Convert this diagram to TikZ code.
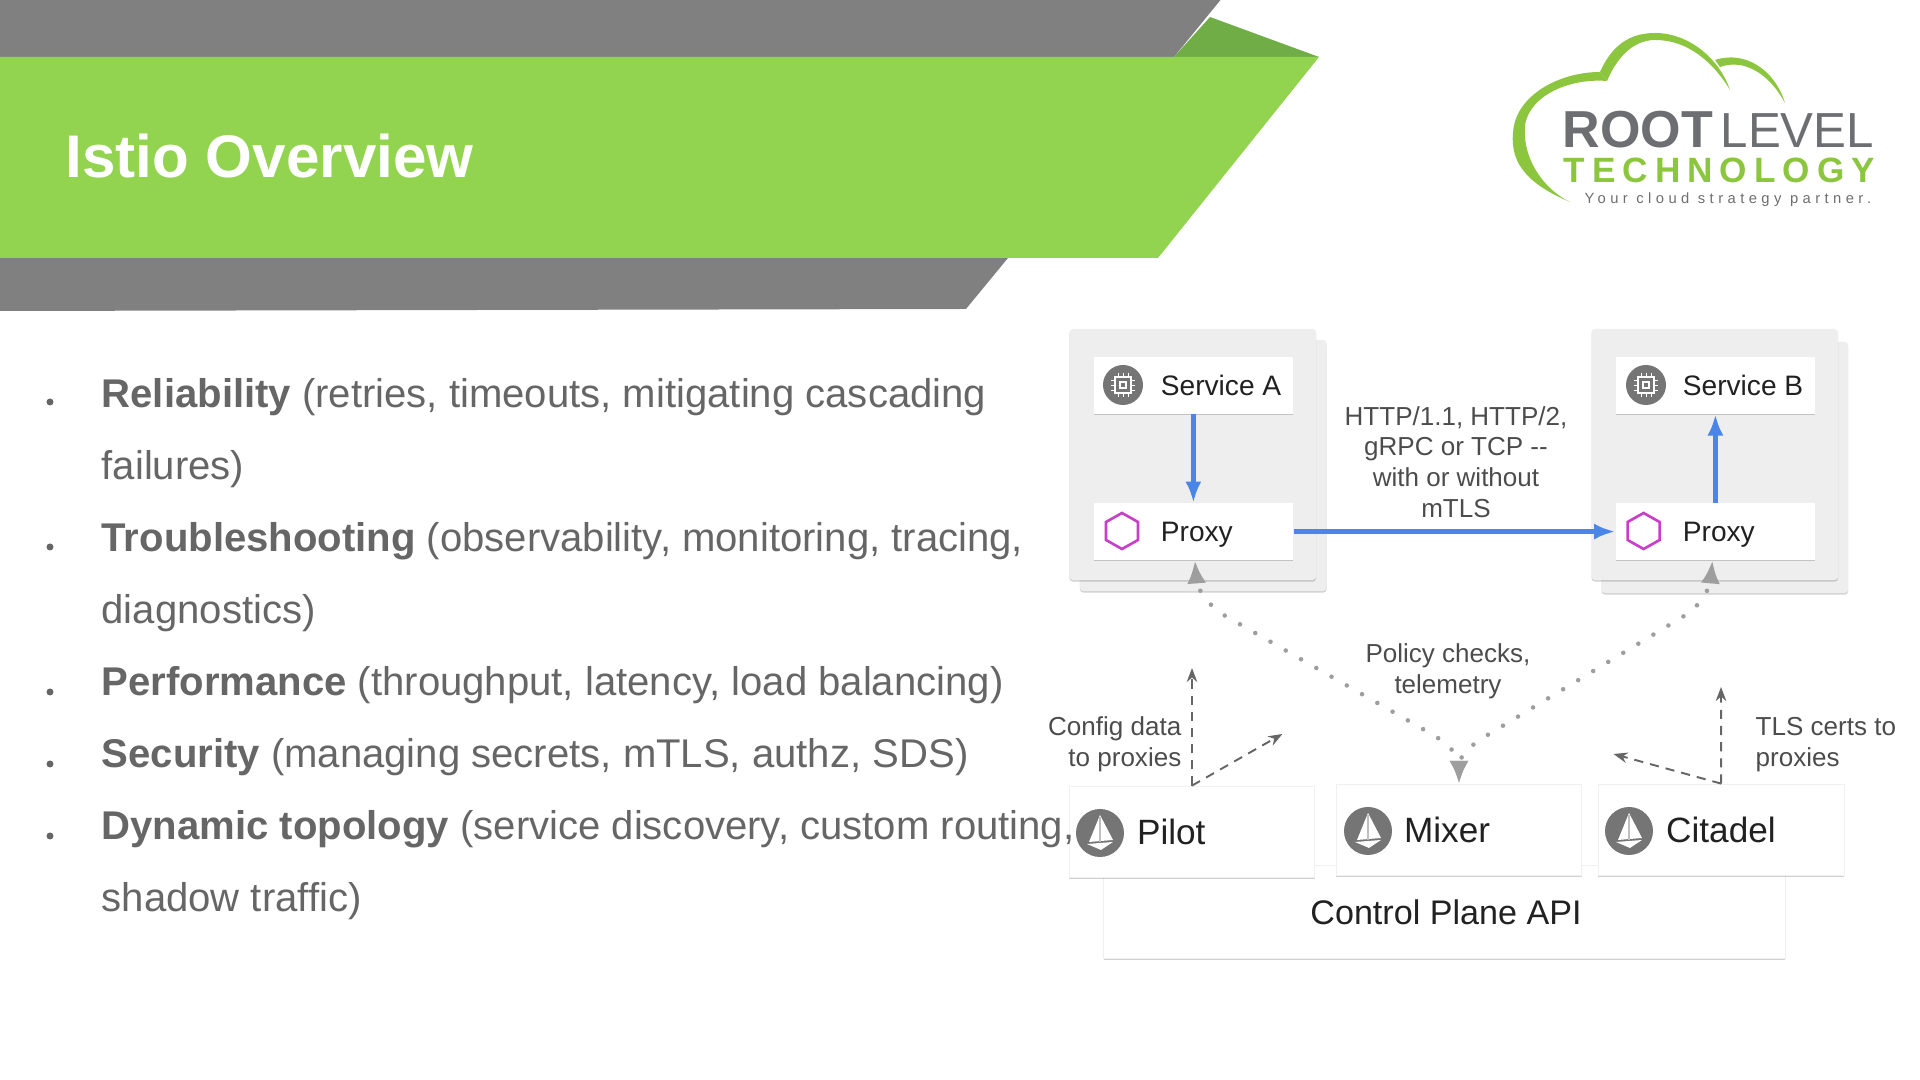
\documentclass[tikz,border=0pt]{standalone}
\usepackage{fontspec}
\setmainfont{Liberation Sans}
\usetikzlibrary{arrows.meta,positioning,shadows}
\definecolor{bandgray}{HTML}{808080}
\definecolor{bandgreen}{HTML}{92D350}
\definecolor{folddark}{HTML}{70AD47}
\definecolor{logogreen}{HTML}{8CC63F}
\definecolor{logogray}{HTML}{6D6E71}
\definecolor{bodygray}{HTML}{666666}
\definecolor{podgray}{HTML}{EEEEEE}
\definecolor{flowblue}{HTML}{4A86E8}
\definecolor{hexpurple}{HTML}{C83FC8}
\definecolor{icongray}{HTML}{757575}
\tikzset{
  softshadow/.style={drop shadow={shadow xshift=0pt,shadow yshift=-0.45pt,opacity=.18,fill=black}},
  podbox/.style={fill=podgray,rounded corners=1pt,minimum width=2.465cm,minimum height=2.51cm,inner sep=0pt,softshadow},
  tile/.style={fill=white,minimum width=1.99cm,minimum height=.565cm,inner sep=0pt,softshadow},
  bigtile/.style={fill=white,draw=black!6,line width=.2pt,minimum width=2.455cm,minimum height=.91cm,inner sep=0pt,softshadow},
  tilelabel/.style={font=\fontsize{8}{10}\selectfont,text=black!87,inner sep=0pt,text height=.72em,text depth=0pt,yshift=.025cm},
  biglabel/.style={font=\fontsize{10}{12}\selectfont,text=black!87,inner sep=0pt},
  note/.style={font=\fontsize{7.4}{8.7}\selectfont,text=black!70,inner sep=0pt},
  bodyline/.style={font=\fontsize{11.4}{14}\selectfont,text=bodygray,inner sep=0pt,anchor=base west},
  bulletdot/.style={circle,fill=bodygray,minimum size=.07cm,inner sep=0pt},
  flow/.style={draw=flowblue,line width=1.25pt,-{Latex[length=6pt,width=4.6pt]}},
  dotflow/.style={draw=black!38,line width=1.3pt,line cap=round,dash pattern=on 0pt off 5pt,rounded corners=3pt,
    {Latex[length=6.5pt,width=5.5pt]}-{Latex[length=6.5pt,width=5.5pt]}},
  dashflow/.style={draw=black!60,line width=.55pt,dash pattern=on 2.6pt off 2pt,-{Stealth[length=4pt,width=3pt]}},
  chipicon/.pic={
    \fill[icongray] (0,0) circle (20);
    \foreach \d in {-5,0,5}{
      \draw[white,line width=.25pt] (\d,-12) -- (\d,12) (-12,\d) -- (12,\d);
    }
    \fill[white] (-9,-9) rectangle (9,9);
    \fill[icongray] (-7,-7) rectangle (7,7);
    \fill[white] (-4,-4) rectangle (4,4);
    \fill[icongray] (-2,-2) rectangle (2,2);
  },
  sailicon/.pic={
    \fill[icongray] (0,0) circle (24);
    \fill[white] (0,-18) -- (-11,9) -- (13,7) -- cycle;
    \fill[white] (-13,11) -- (13,9) -- (1,17) -- cycle;
    \draw[black!25,line width=.3pt] (0,-16) -- (0,9);
  },
  hexicon/.pic={
    \draw[hexpurple,line width=.75pt] (0,-18) -- (16,-9) -- (16,9) -- (0,18) -- (-16,9) -- (-16,-9) -- cycle;
  },
}
\begin{document}
\begin{tikzpicture}[x=0.01cm,y=-0.01cm,node distance=1.46cm]
\useasboundingbox (0,0) rectangle (1920,1080);
% banner
\fill[bandgray] (0,0) -- (1220.5,0) -- (1174,57) -- (1008,258) -- (966,309) -- (0,311) -- cycle;
\fill[folddark] (1210,17) -- (1319,57) -- (1174,57) -- cycle;
\fill[bandgreen] (0,57) -- (1319,57) -- (1158,258) -- (0,258) -- cycle;
\node[anchor=base west,inner sep=0pt,text=white,font=\fontsize{17.1}{20}\selectfont\bfseries] (title) at (65,178) {Istio Overview};
% logo
\fill[logogreen] (1570,202) .. controls (1530,185) and (1510,165) .. (1513,133) .. controls (1515,95) and (1560,72) .. (1600,72)
  -- (1607,81) .. controls (1570,78) and (1530,95) .. (1525,125) .. controls (1522,160) and (1545,190) .. (1570,202) -- cycle;
\fill[logogreen] (1600,72) .. controls (1612,45) and (1630,33) .. (1655,33) .. controls (1690,33) and (1720,60) .. (1730,90)
  .. controls (1715,65) and (1690,40) .. (1655,40) .. controls (1635,40) and (1618,55) .. (1607,81) -- cycle;
\fill[logogreen] (1715,60) .. controls (1745,50) and (1775,70) .. (1785,103) .. controls (1770,75) and (1745,58) .. (1720,67) -- cycle;
\node[anchor=base west,inner sep=0pt,text=logogray,font=\fontsize{14.8}{16}\selectfont\bfseries] (logoroot) at (1562,148) {ROOT};
\node[anchor=base west,inner sep=0pt,text=logogray,font=\fontsize{14}{16}\selectfont] (logolevel) at (1720,148) {LEVEL};
\node[anchor=base west,inner sep=0pt,text=logogreen,font=\fontsize{10}{12}\selectfont\bfseries\addfontfeature{LetterSpace=20}] (logotech) at (1563,183) {TECHNOLOGY};
\node[anchor=base west,inner sep=0pt,text=logogray,font=\fontsize{4.2}{5}\selectfont\addfontfeature{LetterSpace=30}] (logotag) at (1584,204) {Your cloud strategy partner.};
% data plane
\node[podbox] (backA) at (1203.3,465.5) {};
\node[podbox] (podA) at (1192.75,454.5) {};
\node[podbox] (backB) at (1724.85,467.5) {};
\node[podbox] (podB) at (1714.85,454.5) {};
\node[tile] (svcA) at (1193.4,385.5) {};
\node[tile] (proxyA) [below of = svcA] {};
\node[tile] (svcB) at (1715.4,385.5) {};
\node[tile] (proxyB) [below of = svcB] {};
\pic at (1123,385) {chipicon};
\pic at (1122,531) {hexicon};
\pic at (1646,385) {chipicon};
\pic at (1643.6,531) {hexicon};
\node[tilelabel,right=.67cm of svcA.west] (svcAtext) {Service A};
\node[tilelabel,right=.67cm of proxyA.west] (proxyAtext) {Proxy};
\node[tilelabel,right=.67cm of svcB.west] (svcBtext) {Service B};
\node[tilelabel,right=.67cm of proxyB.west] (proxyBtext) {Proxy};
\node[note,align=center] (wire) at (1456,462) {HTTP/1.1, HTTP/2,\\gRPC or TCP {-}{-}\\with or without\\mTLS};
% control plane
\node[fill=white,draw=black!6,line width=.2pt,minimum width=6.81cm,minimum height=.93cm,inner sep=0pt,softshadow] (api) at (1444.4,911.5) {};
\node[bigtile] (pilot) at (1192,831.5) {};
\node[bigtile] (mixer) at (1459,829.5) {};
\node[bigtile] (citadel) [right of = mixer,node distance=2.62cm] {};
\pic at (1100,833) {sailicon};
\pic at (1368,831) {sailicon};
\pic at (1629,831) {sailicon};
\node[biglabel,right=.675cm of pilot.west] (pilottext) {Pilot};
\node[biglabel,right=.675cm of mixer.west] (mixertext) {Mixer};
\node[biglabel,right=.675cm of citadel.west] (citadeltext) {Citadel};
\node[inner sep=0pt,text=black!87,font=\fontsize{9.7}{12}\selectfont] (apitext) at (1446,912) {Control Plane API};
\node[note,align=center] (policy) at (1448,671.5) {Policy checks,\\telemetry};
\node[note,align=right,anchor=east] (config) at (1182,744.5) {Config data\\to proxies};
\node[note,align=left,anchor=west] (certs) at (1755,744.5) {TLS certs to\\proxies};
% connectors
\coordinate (pilotup) at (1192,668);
\coordinate (pilotside) at (1282.4,734);
\coordinate (citadelup) at (1721,687);
\coordinate (citadelside) at (1613.5,754);
\coordinate (kneeAa) at (1197,588);
\coordinate (kneeAb) at (1215,610);
\coordinate (kneeAc) at (1442,740);
\coordinate (kneeBa) at (1710,588);
\coordinate (kneeBb) at (1694,610);
\coordinate (kneeBc) at (1476,742);
\coordinate (mixerin) at (1459,757);
\draw[flow] (svcA) -- (proxyA);
\draw[flow] (proxyB) -- (svcB);
\draw[flow] (proxyA) -- (proxyB);
\draw[dotflow] ([xshift=.015cm]proxyA.south) -- (kneeAa) -- (kneeAb) -- (kneeAc) -- (mixerin) -- (mixer.north);
\draw[dotflow] ([xshift=-.03cm]proxyB.south) -- (kneeBa) -- (kneeBb) -- (kneeBc) -- (mixerin) -- (mixer.north);
\draw[dashflow] (pilot.north) -- (pilotup);
\draw[dashflow] (pilot.north) -- (pilotside);
\draw[dashflow] (citadel.north) -- (citadelup);
\draw[dashflow] (citadel.north) -- (citadelside);
% bullets
\foreach \n/\y in {a/402,b/547,c/692,d/764,e/836}{
  \node[bulletdot] (dot\n) at (50,\y) {};
}
\node[bodyline] (rel1) at (101,408) {\textbf{Reliability} (retries, timeouts, mitigating cascading};
\node[bodyline] (rel2) at (101,480) {failures)};
\node[bodyline] (tro1) at (101,552) {\textbf{Troubleshooting} (observability, monitoring, tracing,};
\node[bodyline] (tro2) at (101,624) {diagnostics)};
\node[bodyline] (per1) at (101,696) {\textbf{Performance} (throughput, latency, load balancing)};
\node[bodyline] (sec1) at (101,768) {\textbf{Security} (managing secrets, mTLS, authz, SDS)};
\node[bodyline] (dyn1) at (101,840) {\textbf{Dynamic topology} (service discovery, custom routing,};
\node[bodyline] (dyn2) at (101,912) {shadow traffic)};
\end{tikzpicture}
\end{document}
